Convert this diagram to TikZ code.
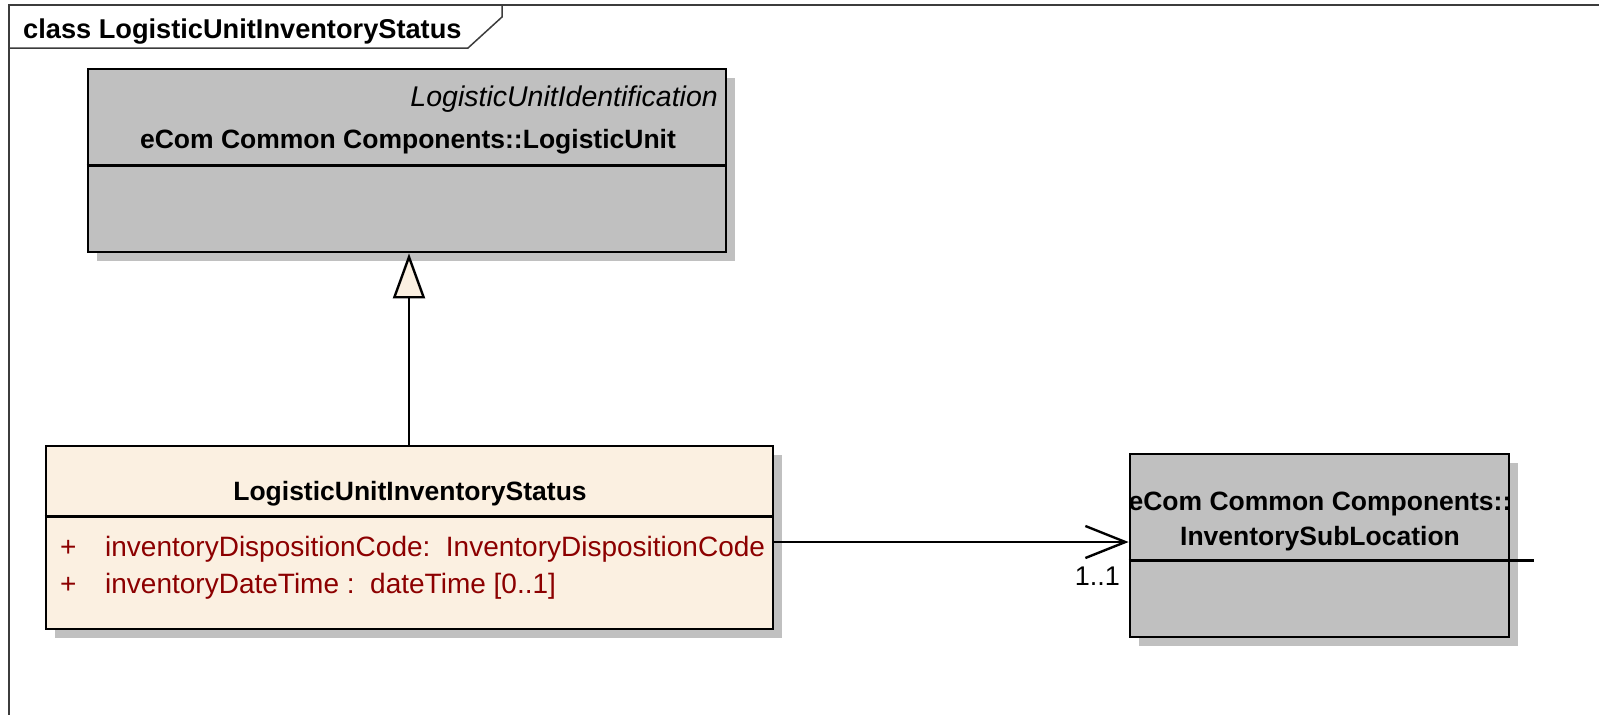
\documentclass[tikz,border=0pt]{standalone}
\usepackage{fontspec}
\setmainfont{Liberation Sans}
\usetikzlibrary{arrows.meta,shadows}
\definecolor{boxgray}{RGB}{192,192,192}
\definecolor{shadowgray}{RGB}{192,192,192}
\definecolor{cream}{RGB}{251,240,225}
\definecolor{attrred}{RGB}{140,0,0}
\definecolor{framegray}{RGB}{60,60,60}
\begin{document}
\begin{tikzpicture}[x=1pt,y=-1pt,
  frameline/.style={draw=framegray, line width=1.5pt},
  umlbox/.style={rectangle, draw=black, line width=2.8pt, inner sep=0pt,
    drop shadow={opacity=1, fill=shadowgray, shadow xshift=9pt, shadow yshift=-9pt}},
  graybox/.style={umlbox, fill=boxgray},
  creambox/.style={umlbox, fill=cream},
  divider/.style={draw=black, line width=2.4pt},
  boldtext/.style={font=\fontsize{26.5}{30}\selectfont\bfseries, inner sep=0pt},
  titletext/.style={font=\fontsize{27.2}{30}\selectfont\bfseries, inner sep=0pt},
  regtext/.style={font=\fontsize{27}{31}\selectfont, inner sep=0pt},
  ittext/.style={font=\fontsize{28.5}{32}\selectfont\itshape, inner sep=0pt},
  attrtext/.style={font=\fontsize{28}{32}\selectfont, inner sep=0pt, text=attrred, anchor=base west},
  genline/.style={draw=black, line width=2.4pt, -{Triangle[length=45pt,width=32pt,fill=cream]}},
  assocline/.style={draw=black, line width=2.4pt, -{Straight Barb[length=40pt,width=32pt]}}
]
\useasboundingbox (0,0) rectangle (1599,715);

% diagram frame and title tab
\draw[frameline] (9,715) -- (9,5) -- (1599,5);
\draw[frameline] (9,48) -- (468,48) -- (502,17) -- (502,5);
\node[titletext, anchor=base west] (title) at (23,38) {class LogisticUnitInventoryStatus};

% LogisticUnit
\node[graybox, minimum width=638pt, minimum height=183pt] (lu) at (407,160.5) {};
\node[ittext, anchor=base east] (lustereo) at (718,106) {LogisticUnitIdentification};
\node[boldtext, anchor=base] (luname) at (408,148) {eCom Common Components::LogisticUnit};
\draw[divider] ([yshift=-98pt]lu.north west) -- ([yshift=-98pt]lu.north east);

% LogisticUnitInventoryStatus
\node[creambox, minimum width=727pt, minimum height=183pt] (status) at (409.5,537.5) {};
\node[boldtext, anchor=base] (statusname) at (410,500) {LogisticUnitInventoryStatus};
\draw[divider] ([yshift=-72pt]status.north west) -- ([yshift=-72pt]status.north east);
\node[attrtext] (plus1) at (60,556) {+};
\node[attrtext] (attr1) at (105,556) {inventoryDispositionCode:~~InventoryDispositionCode};
\node[attrtext] (plus2) at (60,593) {+};
\node[attrtext] (attr2) at (105,593) {inventoryDateTime~:~~dateTime~[0..1]};

% InventorySubLocation
\node[graybox, minimum width=379pt, minimum height=183pt] (sub) at (1319.5,545.5) {};
\node[boldtext, anchor=base] (subname1) at (1320,510) {eCom Common Components::};
\node[boldtext, anchor=base] (subname2) at (1320,545) {InventorySubLocation};
\draw[divider] ([yshift=-108pt]sub.north west) -- ([xshift=24pt,yshift=-108pt]sub.north east);

% connectors
\draw[genline] ([xshift=-0.5pt]status.north) -- ([xshift=-0.5pt]status.north |- lu.south);
\draw[assocline] ([yshift=-4.5pt]status.east) -- ([yshift=-4.5pt]status.east -| sub.west);
\node[regtext, anchor=base east] (mult) at (1120,585) {1..1};
\end{tikzpicture}
\end{document}
